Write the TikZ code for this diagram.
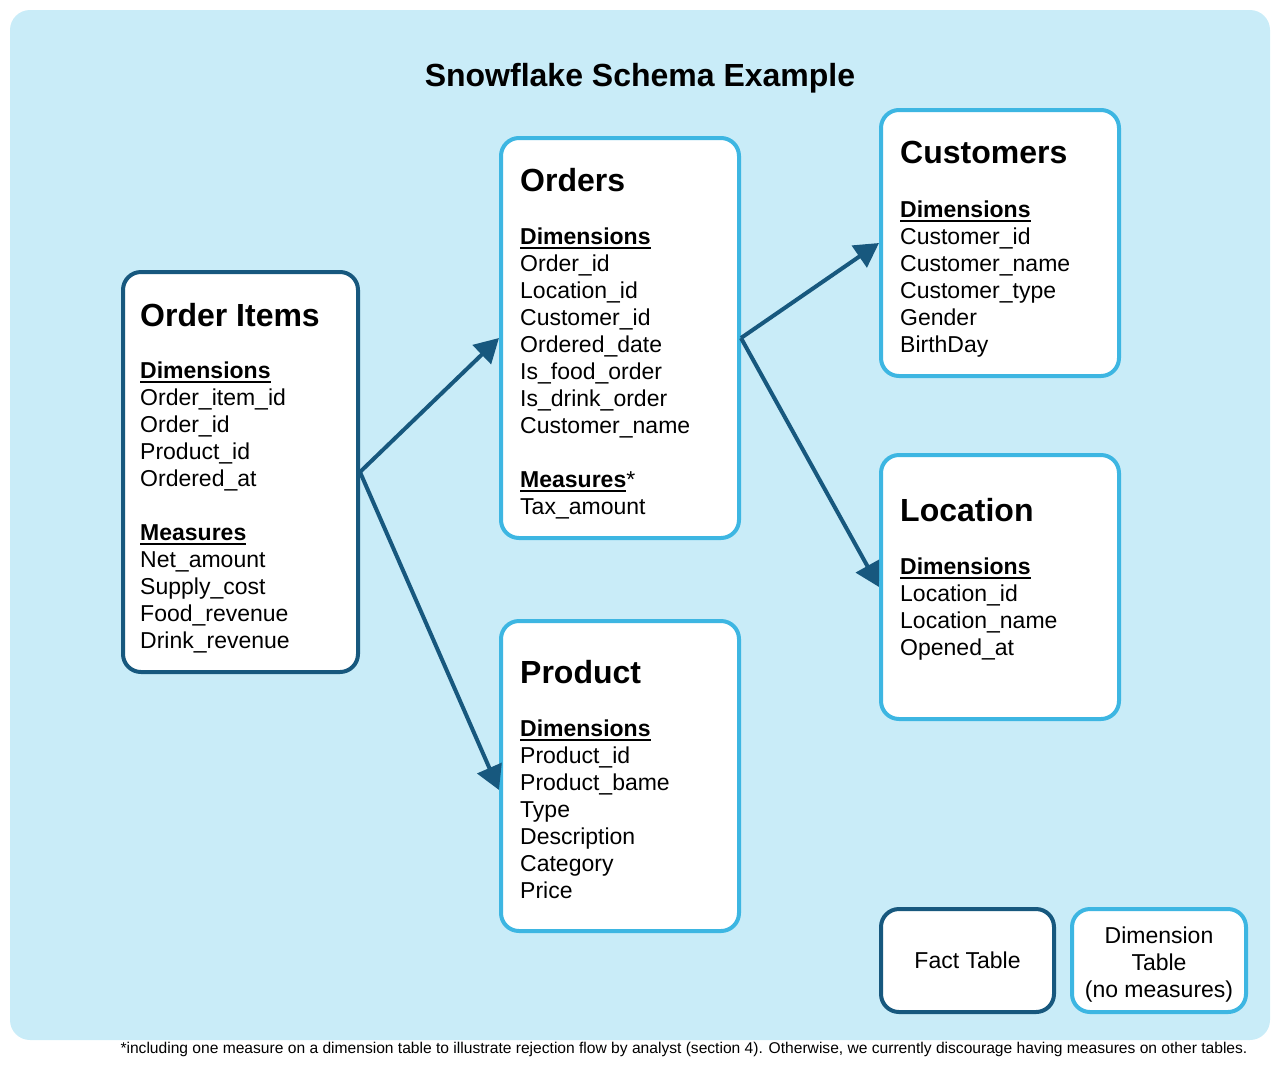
\documentclass[tikz,border=0pt]{standalone}
\usepackage{fontspec}
\setmainfont{Liberation Sans}
\usetikzlibrary{arrows.meta}
\definecolor{bgblue}{HTML}{C9ECF8}
\definecolor{factblue}{HTML}{17587E}
\definecolor{dimblue}{HTML}{3DB6E2}
\newcommand\hdr[1]{\setbox0\hbox{\bfseries #1}\rlap{\rule[-5pt]{\wd0}{1.8pt}}\box0}
\newcommand\fields[1]{\begin{tabular}[t]{@{}l@{}}#1\end{tabular}}

\begin{document}
\begin{tikzpicture}[x=1pt,y=-1pt,
    tablebox/.style={draw,line width=4pt,fill=white,rounded corners=18pt,inner sep=0pt},
    facttable/.style={tablebox,draw=factblue},
    dimtable/.style={tablebox,draw=dimblue},
    tabletitle/.style={anchor=base west,inner sep=0pt,font=\fontsize{32}{36}\selectfont\bfseries},
    tablebody/.style={anchor=base west,inner sep=0pt,font=\fontsize{23}{27}\selectfont},
    link/.style={-{Triangle[length=24pt,width=26pt]},line width=4pt,draw=factblue}]
    \useasboundingbox (0,0) rectangle (1280,1072);
    \fill[bgblue,rounded corners=20pt] (10,10) rectangle (1270,1040);
    \node[anchor=base,inner sep=0pt,font=\fontsize{32}{36}\selectfont\bfseries] (title) at (640,86) {Snowflake Schema Example};

    \node[facttable,minimum width=235pt,minimum height=400pt] (items) at (240.5,472) {};
    \node[tabletitle] (itemstitle) at (140,326) {Order Items};
    \node[tablebody] (itemsbody) at (140,378) {\fields{\hdr{Dimensions}\\Order\_item\_id\\Order\_id\\Product\_id\\Ordered\_at\\ \\
        \hdr{Measures}\\Net\_amount\\Supply\_cost\\Food\_revenue\\Drink\_revenue}};

    \node[dimtable,minimum width=238pt,minimum height=400pt] (orders) at (620,338) {};
    \node[tabletitle] (orderstitle) at (520,191) {Orders};
    \node[tablebody] (ordersbody) at (520,244) {\fields{\hdr{Dimensions}\\Order\_id\\Location\_id\\Customer\_id\\Ordered\_date\\Is\_food\_order\\Is\_drink\_order\\Customer\_name\\ \\
        \hdr{Measures}*\\Tax\_amount}};

    \node[dimtable,minimum width=238pt,minimum height=266pt] (cust) at (1000,243) {};
    \node[tabletitle] (custtitle) at (900,163) {Customers};
    \node[tablebody] (custbody) at (900,217) {\fields{\hdr{Dimensions}\\Customer\_id\\Customer\_name\\Customer\_type\\Gender\\BirthDay}};

    \node[dimtable,minimum width=238pt,minimum height=264pt] (loc) at (1000,587) {};
    \node[tabletitle] (loctitle) at (900,521) {Location};
    \node[tablebody] (locbody) at (900,574) {\fields{\hdr{Dimensions}\\Location\_id\\Location\_name\\Opened\_at}};

    \node[dimtable,minimum width=238pt,minimum height=310pt] (prod) at (620,776) {};
    \node[tabletitle] (prodtitle) at (520,683) {Product};
    \node[tablebody] (prodbody) at (520,736) {\fields{\hdr{Dimensions}\\Product\_id\\Product\_bame\\Type\\Description\\Category\\Price}};

    \draw[link] (items.east) -- (orders.west);
    \draw[link] (items.east) -- ([yshift=-14pt]prod.west);
    \draw[link] (orders.east) -- (cust.west);
    \draw[link] (orders.east) -- (loc.west);

    \node[facttable,minimum width=173pt,minimum height=103pt,font=\fontsize{23}{27}\selectfont] (factkey) at (967.5,960.5) {\raisebox{-2pt}{Fact Table}};
    \node[dimtable,minimum width=174pt,minimum height=103pt] (dimkey) at (1159,960.5) {};
    \node[anchor=base,align=center,inner sep=0pt,font=\fontsize{23}{27}\selectfont] (dimkeytext) at (1159,997) {Dimension\\Table\\(no measures)};

    \node[anchor=base,inner sep=0pt,font=\fontsize{15.6}{16}\selectfont] (note) at (684,1053) {*including one measure on a dimension table to illustrate rejection flow by analyst (section 4). Otherwise, we currently discourage having measures on other tables.};
\end{tikzpicture}
\end{document}
